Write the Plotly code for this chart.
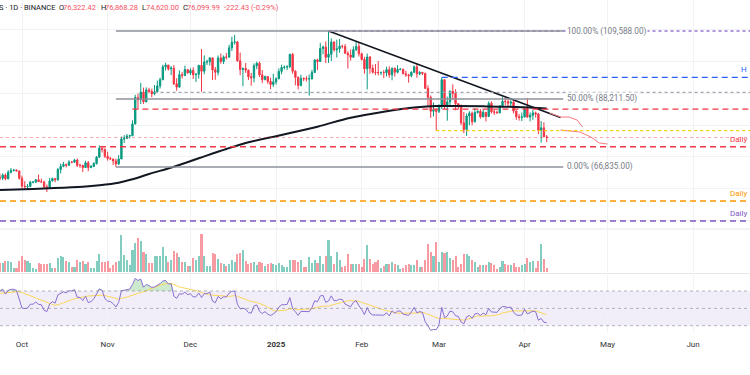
import numpy as np
import pandas as pd
import plotly.graph_objects as go
from plotly.subplots import make_subplots

# ---------------- DATA ----------------
START_DATE = "2024-09-23"
WARMUP_START = "2024-08-20"
# closes before the visible window (only used to warm up the RSI)
WARMUP_CLOSES = [59000, 61160, 60380, 64090, 64170, 64220, 62830, 59420, 59030, 59370, 59120, 58970,
                 57300, 59130, 57480, 57970, 56160, 53960, 54160, 54870, 57050, 57640, 57340, 58130,
                 60570, 60000, 59180, 58210, 60310, 61760, 62950, 63200, 63350, 63580]

CLOSES = [
    # Sep 23-30
    63330, 64300, 63140, 65180, 65770, 65860, 65600, 63300,
    # Oct
    60800, 60650, 60750, 62080, 62090, 62820, 62220, 62130, 60580, 60270, 62440, 63190, 62850, 66050, 67040,
    67610, 67370, 68390, 68360, 69000, 67360, 67360, 66650, 68160, 66640, 67010, 67930, 69900, 72720, 72340, 70220,
    # Nov
    69490, 69360, 68740, 67800, 69360, 75640, 75900, 76540, 76690, 80370, 88700, 87950, 90380, 87330, 91070,
    90590, 89850, 90460, 92310, 94290, 98320, 98890, 97670, 97900, 93010, 91960, 95860, 95640, 97460, 96410,
    # Dec
    97190, 95840, 96000, 98770, 96950, 99870, 99920, 101120, 97360, 96590, 101120, 100000, 101420, 101370, 104300,
    106060, 106140, 100200, 97460, 97800, 97290, 95190, 94880, 98680, 99430, 95790, 94300, 95300, 93740, 92790, 93580,
    # Jan
    94590, 96890, 98110, 98240, 98360, 102250, 96950, 95040, 92480, 94700, 94570, 94520, 94540, 96560, 100500,
    99990, 104080, 104560, 101330, 102260, 106140, 103660, 103960, 104820, 104710, 102580, 102080, 101330, 103730, 104740, 102430,
    # Feb
    100640, 97690, 101400, 97870, 96610, 96550, 96500, 96530, 96480, 97430, 95780, 97870, 96620, 97510, 97570,
    96120, 95770, 95540, 96640, 98330, 96130, 96580, 96250, 91550, 88740, 84350, 84710, 84350,
    # Mar
    86060, 94270, 86220, 87280, 90610, 89960, 86740, 86150, 80730, 78600, 82860, 83720, 81070, 83970, 84340,
    82580, 84030, 82720, 86850, 84170, 84040, 83830, 86080, 87500, 87420, 86900, 87230, 84420, 82650, 82390, 82550,
    # Apr
    85160, 82520, 83100, 83840, 83500, 78370, 79140, 76320, 76100,
]

HIGHS = [
    64750, 64800, 64820, 65800, 66500, 66260, 66080, 65630,
    64130, 62390, 61470, 62480, 62370, 62980, 64480, 63190, 62540, 61320, 63400, 63480, 63280, 66500, 67950,
    68420, 67900, 68970, 68690, 69400, 69520, 67830, 67460, 68800, 68770, 67450, 68330, 70270, 73620, 72960, 72700,
    71630, 70000, 69400, 69480, 70580, 76400, 76850, 77200, 76950, 81500, 89530, 89940, 93270, 91790, 91850,
    91760, 91450, 92600, 94000, 94900, 98980, 99590, 98870, 98590, 98870, 94740, 97200, 96650, 98700, 97460,
    97840, 98150, 96300, 99000, 103900, 101900, 100550, 101400, 101200, 98270, 101890, 102540, 101900, 102650, 105250,
    107790, 108350, 106470, 102800, 98130, 99540, 97420, 96420, 99400, 99960, 99960, 97300, 95530, 95300, 94900, 96150,
    95000, 97830, 98980, 98730, 98820, 102480, 102700, 97240, 95340, 95840, 94980, 95360, 95900, 97370, 100680,
    100870, 105870, 104990, 106300, 109588, 107240, 106330, 106850, 107100, 105290, 105470, 103200, 103780, 104780, 106460, 106000,
    102780, 101460, 102500, 101730, 99000, 99200, 100140, 96880, 97320, 98350, 98500, 98120, 98090, 98830, 97970,
    97730, 97050, 96120, 96900, 98760, 99500, 96970, 96700, 96500, 92520, 89290, 87080, 85120,
    86560, 95000, 94420, 88960, 91000, 92810, 91280, 86850, 86500, 84100, 83620, 84360, 84300, 85300, 84670,
    85050, 84760, 84060, 87450, 87440, 84850, 84530, 86100, 88770, 88540, 88290, 87790, 87520, 84590, 83520, 83940,
    85580, 88500, 83990, 84720, 84250, 83820, 81240, 80870, 76868,
]

LOWS = [
    62700, 62700, 62670, 62900, 64800, 65420, 65420, 62860,
    60160, 59990, 59830, 60460, 61690, 61830, 62130, 61820, 60300, 58950, 60050, 62310, 62030, 62420, 64800,
    66750, 66680, 67150, 68020, 68100, 66820, 66560, 65260, 66540, 65520, 66560, 66780, 67570, 69730, 71430, 69680,
    68820, 69020, 67460, 66835, 67450, 69300, 74420, 75560, 75770, 76500, 80220, 85070, 86630, 86670, 87130,
    90090, 88720, 89380, 90370, 91500, 94100, 97180, 97140, 95730, 92600, 90790, 91800, 94660, 95350, 96160,
    95690, 94500, 93580, 94660, 90500, 95980, 98950, 98760, 94150, 94260, 95620, 99310, 99210, 100620, 101230,
    103300, 105320, 100000, 95700, 92230, 96400, 94200, 92400, 93430, 97600, 95140, 93250, 94110, 92950, 91310, 92000,
    92740, 94400, 96000, 97520, 97280, 97900, 96110, 92500, 91200, 92200, 93830, 93710, 89260, 94310, 96500,
    97300, 99950, 102280, 99500, 99550, 100120, 103100, 101260, 102750, 104100, 102460, 97780, 100280, 101260, 103300, 101560,
    100280, 96150, 91230, 96150, 96200, 95700, 95620, 95690, 94750, 95260, 94870, 94090, 95220, 96250, 97230,
    96050, 95200, 93340, 95020, 96400, 94850, 95650, 95740, 91370, 86050, 82260, 82720, 78258,
    83800, 85040, 85080, 81390, 86340, 87850, 84670, 85120, 80000, 77460, 76610, 79940, 79940, 80800, 83630,
    82020, 82460, 81150, 82620, 83650, 83180, 83650, 83790, 85540, 86300, 85860, 85850, 83650, 81650, 81420, 81280,
    82430, 82320, 81190, 81660, 82370, 77150, 74510, 76240, 74620,
]

# volume in thousand BTC
VOLUMES = [v * 3 for v in [
    9, 9, 10.7, 10.7, 10, 4, 4,
    10.7, 15.7, 11.7, 10.7, 9, 4, 3.5, 9.3, 8.3, 8.3, 8.3, 9, 4.3, 4.3, 14, 16, 15, 10.7, 10, 5, 5,
    11.7, 10, 11, 8.3, 10, 4.3, 4.3, 10.7, 18.3, 10, 10, 10.7, 4.3, 6.7, 10, 11,
    36.7, 16.7, 11.7, 6.7, 22.3, 29, 34.3, 30.7, 20, 17.7, 9.3, 9, 16, 16, 15.7, 25, 16, 10, 11.7, 21, 19, 15, 10, 10, 5.7,
    6, 14, 12.3, 16, 38.3, 16, 5.7, 5.7, 19, 18.3, 13.3, 9.3, 8.3, 5.7, 8.3, 12.3, 10, 17.7, 19, 22.3, 11, 8.3, 9.3,
    10, 6.7, 10, 9, 6, 8.3, 9.3, 8.3,
    6.7, 9.3, 7.3, 5, 5, 11.7, 11.7, 11.7, 10, 11.7, 5, 5, 15, 9, 11.7, 9.3, 15.7, 8.3, 15.7, 31.7, 16, 8.3, 20, 11.7,
    5, 5.7, 17.7, 8.3, 8.3, 8.3, 8.3,
    5, 13.3, 26.7, 13.3, 8.3, 10, 12.3, 4, 5.7, 8.3, 8.3, 10, 7.7, 7.3, 3.3, 4, 6.7, 8.3, 7.3, 7.3, 12.3, 5, 5, 11.7,
    27.7, 20, 15.7, 30,
    10, 20, 19, 20, 14, 12.3, 16, 5, 8.3, 17.7, 17.7, 15.7, 11.7, 10, 5, 6.7, 7.3, 7.3, 10, 9, 6.7, 3.3, 5, 10.7, 8.3,
    7.3, 6.7, 9, 5, 5, 7.3,
    8.3, 14.3, 10, 11, 4.3, 11, 27.7, 12.7, 4,
]]

# moving average
MA_DATES = ["2024-09-23", "2024-10-02", "2024-10-11", "2024-10-23", "2024-10-29", "2024-11-05", "2024-11-10",
            "2024-11-16", "2024-11-25", "2024-12-04", "2024-12-14", "2024-12-22", "2025-01-03", "2025-01-16",
            "2025-01-28", "2025-02-09", "2025-02-21", "2025-02-28", "2025-03-07", "2025-03-17", "2025-03-29", "2025-04-09"]
MA_VALUES = [59600, 59820, 60130, 60640, 61080, 61890, 62960, 64630, 66930, 69570, 72490, 74600, 76890, 79500,
             82330, 84220, 85600, 86010, 86010, 85910, 85690, 85220]

TREND_DATES = ["2025-01-20", "2025-04-14"]
TREND_VALUES = [109588, 82400]

PROJ1_DATES = ["2025-04-10", "2025-04-14", "2025-04-17", "2025-04-20", "2025-04-22"]
PROJ1_VALUES = [83800, 82550, 82550, 81600, 79400]
PROJ2_DATES = ["2025-04-14", "2025-04-21", "2025-04-25", "2025-04-28", "2025-05-01"]
PROJ2_VALUES = [78460, 77830, 76260, 74380, 74060]

FIB_LEVELS = [109588.0, 88211.5, 66835.0]
FIB_PCTS = ["100.00%", "50.00%", "0.00%"]
FIB_START, FIB_END = "2024-11-04", "2025-04-15"

# horizontal levels: price, start date (None = left edge), colour, dash, width, right-edge label
LEVEL_PRICES = [109588, 95000, 90300, 85000, 78258, 76100, 73200, 56140, 49850]
LEVEL_STARTS = ["2025-01-20", "2025-03-02", "2024-11-18", "2024-11-10", "2025-02-28", None, None, None, None]
LEVEL_COLORS = ["#9575cd", "#2962ff", "#a3a6af", "#f23645", "#f5d000", "rgba(242,54,69,0.55)", "#f23645", "#ff9800", "#7e57c2"]
LEVEL_DASH = ["dot", "6px,4px", "dot", "6px,4px", "dot", "dot", "6px,4px", "6px,4px", "6px,4px"]
LEVEL_WIDTH = [1.3, 1.3, 1.2, 1.3, 1.3, 0.8, 1.3, 1.3, 1.6]
LEVEL_LABELS = [None, "H", None, None, None, None, "Daily", "Daily", "Daily"]

MONTH_TICKS = ["2024-10-01", "2024-11-01", "2024-12-01", "2025-01-01", "2025-02-01", "2025-03-01",
               "2025-04-01", "2025-05-01", "2025-06-01"]
MONTH_LABELS = ["Oct", "Nov", "Dec", "<b>2025</b>", "Feb", "Mar", "Apr", "May", "Jun"]

HEADER_PARTS = ["S · 1D · BINANCE", "O", "76,322.42", "H", "76,868.28", "L", "74,620.00", "C", "76,099.99", "-222.43 (-0.29%)"]

# ---------------- PREP ----------------
X_START = "2024-09-23 00:45"
X_END = "2025-06-21 15:00"
W, H = 750, 375
PLOT_H = 333

dates = pd.date_range(START_DATE, periods=len(CLOSES), freq="D")
all_close = np.array(WARMUP_CLOSES + CLOSES, dtype=float)
all_dates = pd.date_range(WARMUP_START, periods=len(all_close), freq="D")
nw = len(WARMUP_CLOSES)
opens = all_close[nw - 1:-1]
closes = np.array(CLOSES, float)

# RSI(14) with Wilder smoothing + SMA(14) of RSI
s = pd.Series(all_close, index=all_dates)
d = s.diff()
gain = d.clip(lower=0).ewm(alpha=1 / 14, adjust=False).mean()
loss = (-d.clip(upper=0)).ewm(alpha=1 / 14, adjust=False).mean()
rsi_all = 100 - 100 / (1 + gain / loss)
rsi_ma_all = rsi_all.rolling(14).mean()
rsi = rsi_all.iloc[nw:].values
rsi_ma = rsi_ma_all.iloc[nw:].values

UP, DN = "#089981", "#f23645"
vol_colors = ["rgba(8,153,129,0.5)" if c >= o else "rgba(242,54,69,0.5)" for o, c in zip(opens, closes)]

fig = make_subplots(rows=3, cols=1, shared_xaxes=True, vertical_spacing=0.0)

fig.add_trace(go.Candlestick(x=dates, open=opens, high=HIGHS, low=LOWS, close=closes,
                             increasing=dict(line=dict(color=UP, width=1), fillcolor=UP),
                             decreasing=dict(line=dict(color=DN, width=1), fillcolor=DN),
                             whiskerwidth=0, showlegend=False, hoverinfo="skip"), row=1, col=1)

fig.add_trace(go.Scatter(x=MA_DATES, y=MA_VALUES, mode="lines", line=dict(color="#131722", width=2, shape="spline"),
                         showlegend=False, hoverinfo="skip"), row=1, col=1)
fig.add_trace(go.Scatter(x=TREND_DATES, y=TREND_VALUES, mode="lines", line=dict(color="#131722", width=1.5),
                         showlegend=False, hoverinfo="skip"), row=1, col=1)
for dx, vy in [(PROJ1_DATES, PROJ1_VALUES), (PROJ2_DATES, PROJ2_VALUES)]:
    fig.add_trace(go.Scatter(x=dx, y=vy, mode="lines", line=dict(color="#f77c80", width=1),
                             showlegend=False, hoverinfo="skip"), row=1, col=1)

fig.add_trace(go.Bar(x=dates, y=VOLUMES, marker=dict(color=vol_colors, line=dict(width=0)),
                     width=86400000 * 0.75, showlegend=False, hoverinfo="skip"), row=2, col=1)

# RSI pane
fig.add_trace(go.Scatter(x=dates, y=np.full(len(dates), 70.0), mode="lines", line=dict(width=0),
                         showlegend=False, hoverinfo="skip"), row=3, col=1)
fig.add_trace(go.Scatter(x=dates, y=np.maximum(rsi, 70), mode="lines", line=dict(width=0), fill="tonexty",
                         fillcolor="rgba(76,175,80,0.28)", showlegend=False, hoverinfo="skip"), row=3, col=1)
fig.add_trace(go.Scatter(x=dates, y=rsi_ma, mode="lines", line=dict(color="#fbd75a", width=1),
                         showlegend=False, hoverinfo="skip"), row=3, col=1)
fig.add_trace(go.Scatter(x=dates, y=rsi, mode="lines", line=dict(color="#8a6fd1", width=1),
                         showlegend=False, hoverinfo="skip"), row=3, col=1)

shapes = []
shapes.append(dict(type="rect", xref="x3", yref="y3", x0=X_START, x1=X_END, y0=30, y1=70,
                   fillcolor="rgba(126,87,194,0.1)", line=dict(width=0), layer="below"))
for lv in [70, 50, 30]:
    shapes.append(dict(type="line", xref="x3", yref="y3", x0=X_START, x1=X_END, y0=lv, y1=lv,
                       line=dict(color="rgba(120,123,134,0.55)", width=1, dash="3px,3px")))
for p, st, col, dash, wd in zip(LEVEL_PRICES, LEVEL_STARTS, LEVEL_COLORS, LEVEL_DASH, LEVEL_WIDTH):
    shapes.append(dict(type="line", xref="x", yref="y", x0=st if st else X_START, x1=X_END, y0=p, y1=p,
                       line=dict(color=col, width=wd, dash=dash)))
for lv in FIB_LEVELS:
    shapes.append(dict(type="line", xref="x", yref="y", x0=FIB_START, x1=FIB_END, y0=lv, y1=lv,
                       line=dict(color="#8f929b", width=1.3)))
for py in [229, 273.5]:
    shapes.append(dict(type="line", xref="paper", yref="paper", x0=0, x1=1, y0=1 - py / PLOT_H, y1=1 - py / PLOT_H,
                       line=dict(color="#e6e8ee", width=1)))

annotations = []
FONT = "Roboto"
for lv, pct in zip(FIB_LEVELS, FIB_PCTS):
    annotations.append(dict(xref="paper", yref="y", x=566 / W, y=lv, xanchor="left", yanchor="middle",
                            text=f"{pct} ({lv:,.2f})", showarrow=False, bgcolor="white", borderpad=0,
                            font=dict(family=FONT, size=8.2, color="#787b86")))
for p, col, lab in zip(LEVEL_PRICES, LEVEL_COLORS, LEVEL_LABELS):
    if lab:
        annotations.append(dict(xref="paper", yref="y", x=749 / W, y=p, xanchor="right", yanchor="bottom",
                                yshift=1, text=lab, showarrow=False, font=dict(family=FONT, size=8, color=col)))

hx = [-3, 57, 61, 99, 103, 140, 144, 181, 185, 222]
hcol = ["#131722", "#131722", "#f7525f", "#131722", "#f7525f", "#131722", "#f7525f", "#131722", "#f7525f", "#f7525f"]
for x, t, c in zip(hx, HEADER_PARTS, hcol):
    annotations.append(dict(xref="paper", yref="paper", x=x / W, y=1 - 7.5 / PLOT_H, xanchor="left", yanchor="middle",
                            text=t, showarrow=False, font=dict(family=FONT, size=7.5, color=c)))

fig.update_layout(
    width=W, height=H, margin=dict(l=0, r=0, t=0, b=H - PLOT_H),
    paper_bgcolor="white", plot_bgcolor="white", showlegend=False, bargap=0,
    shapes=shapes, annotations=annotations,
    font=dict(family=FONT, size=8, color="#131722"),
)
grid = "#f0f2f6"
for i, ax in enumerate(["xaxis", "xaxis2", "xaxis3"]):
    fig.layout[ax].update(range=[X_START, X_END], tickvals=MONTH_TICKS, ticktext=MONTH_LABELS,
                          showgrid=True, gridcolor=grid, gridwidth=1, zeroline=False, showline=False,
                          rangeslider=dict(visible=False), showticklabels=(i == 2),
                          ticks="outside" if i == 2 else "", ticklen=3, tickcolor="rgba(0,0,0,0)",
                          tickfont=dict(family=FONT, size=8, color="#333"))
fig.layout.yaxis.update(domain=[1 - 228 / PLOT_H, 1], range=[47651, 119334], dtick=10000, tick0=0,
                        showgrid=True, gridcolor=grid, showticklabels=False, zeroline=False)
fig.layout.yaxis2.update(domain=[1 - 272 / PLOT_H, 1 - 230 / PLOT_H], range=[0, 126], showgrid=False,
                         showticklabels=False, zeroline=False)
fig.layout.yaxis3.update(domain=[0, 1 - 275 / PLOT_H], range=[21.6, 88.45], showgrid=False,
                         showticklabels=False, zeroline=False)

fig.write_html("out.html", config={"displayModeBar": False},
               post_script="document.body.style.margin='0';document.body.style.overflow='hidden';")
